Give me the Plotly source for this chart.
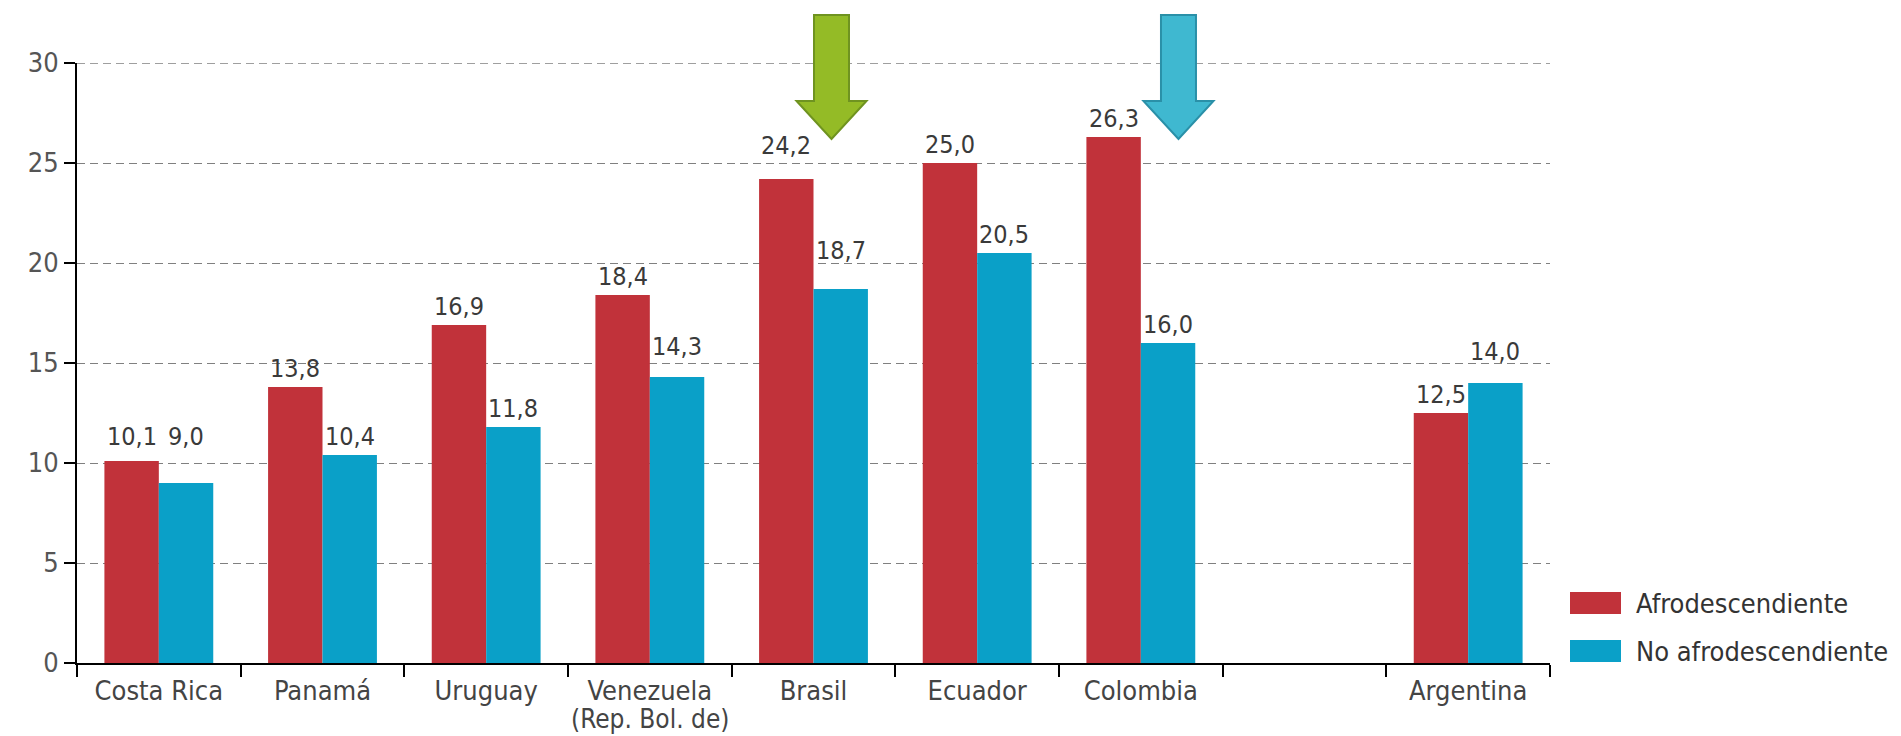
import plotly.graph_objects as go

# Categories (one empty slot separates Argentina from the rest)
paises = ["Costa Rica", "Panamá", "Uruguay", "Venezuela", "Brasil",
          "Ecuador", "Colombia", " ", "Argentina"]
etiquetas = ["Costa Rica", "Panamá", "Uruguay", "Venezuela", "Brasil",
             "Ecuador", "Colombia", "", "Argentina"]
afro = [10.1, 13.8, 16.9, 18.4, 24.2, 25.0, 26.3, None, 12.5]
no_afro = [9.0, 10.4, 11.8, 14.3, 18.7, 20.5, 16.0, None, 14.0]
series = ["Afrodescendiente", "No afrodescendiente"]
y_ticks = [0, 5, 10, 15, 20, 25, 30]

# Extra lift (px) of some value labels so they clear the dashed gridlines
lift_afro = [6, 0, 0, 0, 15, 0, 0, 0, 0]
lift_no_afro = [28, 0, 0, 12, 20, 0, 0, 0, 13]

ROJO = "#C1323A"
AZUL = "#0AA0C8"
GRID = "#808080"
DASH = "8px,5px"
FONT = "DejaVu Sans Condensed, Liberation Sans Narrow, Roboto, sans-serif"

W, H = 1901, 736
PL, PR, PT, PB = 77, 1550, 63, 663  # plot area in pixels
N = len(paises)
YMAX = 30
BARGAP = 0.335
HALF_BAR = (PR - PL) / N * (1 - BARGAP) / 4  # offset of each bar from slot centre


def px_x(px):
    return (px - PL) / (PR - PL)


def px_y(py):
    return (PB - py) / (PB - PT)


def cat_x(i):
    return (i + 0.5) / N


fig = go.Figure()
for name, vals, col in [(series[0], afro, ROJO), (series[1], no_afro, AZUL)]:
    fig.add_trace(go.Bar(
        x=paises, y=vals, name=name, marker=dict(color=col, line=dict(width=0)),
        showlegend=False, hoverinfo="x+y+name",
    ))

shapes = []
annotations = []

# Value labels above each bar
for vals, lifts, side in [(afro, lift_afro, -1), (no_afro, lift_no_afro, 1)]:
    for pais, v, lift in zip(paises, vals, lifts):
        if v is None:
            continue
        annotations.append(dict(
            text=f"{v:.1f}".replace(".", ","), x=pais, y=v, xref="x", yref="y",
            xshift=side * HALF_BAR, yshift=3 + lift, xanchor="center",
            yanchor="bottom", showarrow=False, borderpad=0,
            font=dict(family=FONT, size=25, color="#3a3a3a")))

# Top gridline (the range edge hides the regular one)
shapes.append(dict(type="line", xref="paper", yref="y", x0=0, x1=1,
                   y0=YMAX, y1=YMAX, layer="below",
                   line=dict(color=GRID, width=1.4, dash=DASH)))


# Arrows pointing down at Brasil and Colombia
def arrow(ci, fill, edge):
    cx = cat_x(ci)
    sw = 35 / (PR - PL) / 2
    hw = 70 / (PR - PL) / 2
    top, base, tip = 32.4 / YMAX, 28.1 / YMAX, 26.2 / YMAX
    path = (f"M {cx - sw} {top} L {cx + sw} {top} L {cx + sw} {base} "
            f"L {cx + hw} {base} L {cx} {tip} L {cx - hw} {base} "
            f"L {cx - sw} {base} Z")
    return dict(type="path", xref="paper", yref="paper", path=path,
                fillcolor=fill, line=dict(color=edge, width=2), layer="above")


shapes.append(arrow(4.11, "#94BB26", "#6F9320"))
shapes.append(arrow(6.23, "#3FB8D0", "#2A90A8"))

# Legend drawn as swatches plus labels
for k, (name, col) in enumerate(zip(series, [ROJO, AZUL])):
    y_top = 592 + k * 48
    shapes.append(dict(type="rect", xref="paper", yref="paper",
                       x0=px_x(1570), x1=px_x(1621),
                       y0=px_y(y_top + 22), y1=px_y(y_top),
                       fillcolor=col, line=dict(width=0)))
    annotations.append(dict(text=name, xref="paper", yref="paper",
                            x=px_x(1634), y=px_y(y_top + 11),
                            xanchor="left", yanchor="middle", showarrow=False,
                            font=dict(family=FONT, size=27, color="#333333")))

# Second line of the Venezuela label, kept inside the bottom edge
annotations.append(dict(text="(Rep. Bol. de)", xref="paper", yref="paper",
                        x=cat_x(3), y=px_y(735), xanchor="center",
                        yanchor="bottom", showarrow=False, borderpad=0,
                        font=dict(family=FONT, size=26, color="#444444")))

fig.update_layout(
    width=W, height=H,
    margin=dict(l=PL, r=W - PR, t=PT, b=H - PB, pad=0),
    paper_bgcolor="white", plot_bgcolor="white",
    barmode="group", bargap=BARGAP, bargroupgap=0,
    separators=",.",
    shapes=shapes, annotations=annotations,
    font=dict(family=FONT, color="#444444"),
)
fig.update_xaxes(
    type="category", categoryorder="array", categoryarray=paises,
    tickmode="array", tickvals=paises, ticktext=etiquetas,
    tickson="boundaries", ticks="outside", ticklen=12, tickwidth=2,
    tickcolor="black", showline=True, linecolor="black", linewidth=2,
    showgrid=False, tickfont=dict(family=FONT, size=27, color="#444444"),
    range=[-0.5, N - 0.5], ticklabelstandoff=3,
)
fig.update_yaxes(
    range=[0, YMAX], tickmode="array", tickvals=y_ticks,
    ticks="outside", ticklen=11, tickwidth=2, tickcolor="black",
    showline=True, linecolor="black", linewidth=2, zeroline=False,
    showgrid=True, gridcolor=GRID, gridwidth=1.4, griddash=DASH,
    tickfont=dict(family=FONT, size=27, color="#555555"),
    ticklabelstandoff=0,
)

fig.write_html("out.html")
